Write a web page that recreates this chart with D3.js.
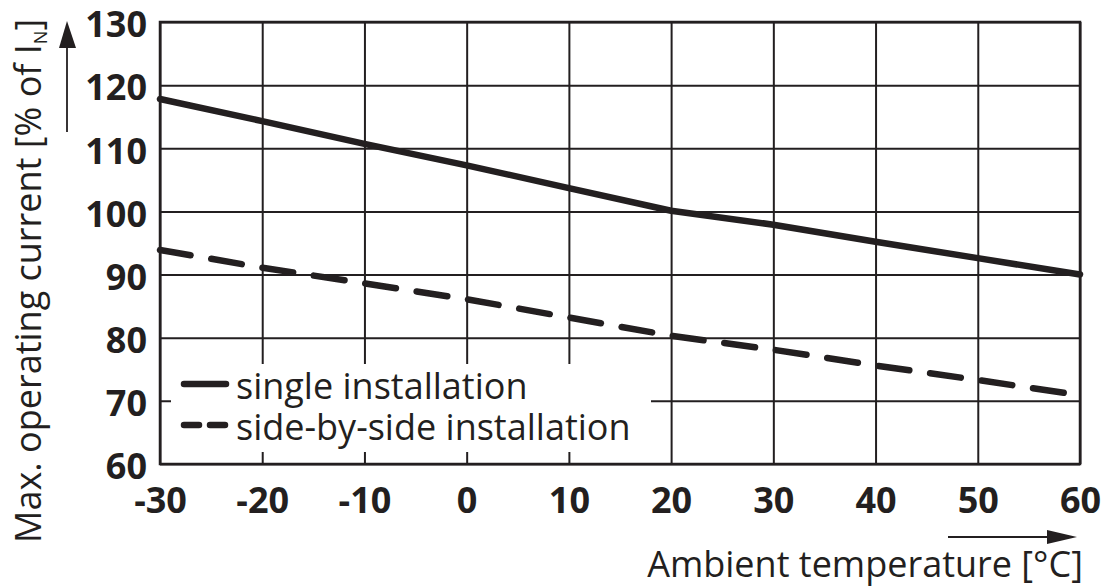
<!DOCTYPE html>
<html>
<head>
<meta charset="utf-8">
<script src="https://cdn.jsdelivr.net/npm/d3@7"></script>
<style>
  html, body { margin: 0; padding: 0; background: #fff; }
  svg { display: block; }
</style>
</head>
<body>
<svg id="chart" width="1101" height="587"></svg>
<script>
// ---- data ----
const temperatures = [-30, -20, -10, 0, 10, 20, 30, 40, 50, 60];
const singleInstallation = [117.8, 114.3, 110.7, 107.3, 103.7, 100.1, 97.9, 95.2, 92.6, 90.0];
const sideBySideInstallation = [93.9, 91.1, 88.6, 86.1, 83.2, 80.3, 78.1, 75.6, 73.3, 70.9];
const xTicks = [-30, -20, -10, 0, 10, 20, 30, 40, 50, 60];
const yTicks = [60, 70, 80, 90, 100, 110, 120, 130];
const seriesNames = ["single installation", "side-by-side installation"];
const xTitle = "Ambient temperature [°C]";
const yTitleMain = "Max. operating current [% of I";
const yTitleSub = "N";
const yTitleEnd = "]";

// ---- layout ----
const plotL = 160, plotR = 1080, plotT = 22, plotB = 464;
const ink = "#231f20";
const font = "'Open Sans', 'Noto Sans', sans-serif";

const svg = d3.select("#chart");
const x = d3.scaleLinear().domain([-30, 60]).range([plotL, plotR]);
const y = d3.scaleLinear().domain([60, 130]).range([plotB, plotT]);

// grid + tick labels via axes
const gx = svg.append("g")
  .attr("transform", `translate(0,${plotB})`)
  .call(d3.axisBottom(x).tickValues(xTicks).tickFormat(d3.format("d"))
    .tickSizeInner(-(plotB - plotT)).tickSizeOuter(0).tickPadding(23));
gx.select(".domain").remove();
gx.selectAll(".tick line").attr("stroke", ink).attr("stroke-width", 2);
gx.selectAll(".tick text")
  .attr("fill", ink).attr("font-family", font).attr("font-weight", "bold")
  .attr("font-size", 36).text(d => String(d));

const gy = svg.append("g")
  .attr("transform", `translate(${plotL},0)`)
  .call(d3.axisLeft(y).tickValues(yTicks).tickFormat(d3.format("d"))
    .tickSizeInner(-(plotR - plotL)).tickSizeOuter(0).tickPadding(13));
gy.select(".domain").remove();
gy.selectAll(".tick line").attr("stroke", ink).attr("stroke-width", 2);
gy.selectAll(".tick text")
  .attr("fill", ink).attr("font-family", font).attr("font-weight", "bold")
  .attr("font-size", 36).attr("dy", "0.41em");

// frame
svg.append("rect")
  .attr("x", plotL).attr("y", plotT)
  .attr("width", plotR - plotL).attr("height", plotB - plotT)
  .attr("fill", "none").attr("stroke", ink).attr("stroke-width", 2.5);

// data lines
const line = d3.line().x((d, i) => x(temperatures[i])).y(d => y(d));
svg.append("path").datum(singleInstallation)
  .attr("d", line).attr("fill", "none").attr("stroke", ink)
  .attr("stroke-width", 6.5).attr("stroke-linecap", "round").attr("stroke-linejoin", "round");
svg.append("path").datum(sideBySideInstallation)
  .attr("d", line).attr("fill", "none").attr("stroke", ink)
  .attr("stroke-width", 6.5).attr("stroke-linecap", "round")
  .attr("stroke-dasharray", "31,21");

// legend
const lg = svg.append("g");
lg.append("rect").attr("x", 171).attr("y", 364).attr("width", 480).attr("height", 88).attr("fill", "#fff");
lg.append("line").attr("x1", 184).attr("x2", 226).attr("y1", 384).attr("y2", 384)
  .attr("stroke", ink).attr("stroke-width", 6.5).attr("stroke-linecap", "round");
lg.append("line").attr("x1", 184).attr("x2", 226).attr("y1", 425).attr("y2", 425)
  .attr("stroke", ink).attr("stroke-width", 6.5).attr("stroke-linecap", "round")
  .attr("stroke-dasharray", "15,11");
lg.selectAll("text.leg").data(seriesNames).enter().append("text")
  .attr("class", "leg")
  .attr("x", 236).attr("y", (d, i) => 399 + i * 41)
  .attr("font-family", font).attr("font-size", 36).attr("fill", ink)
  .text(d => d);

// x axis title + arrow
svg.append("text")
  .attr("x", 1083).attr("y", 577).attr("text-anchor", "end")
  .attr("font-family", font).attr("font-size", 36).attr("fill", ink)
  .text(xTitle);
svg.append("line").attr("x1", 948).attr("x2", 1050).attr("y1", 537).attr("y2", 537)
  .attr("stroke", ink).attr("stroke-width", 1.8);
svg.append("path").attr("d", "M1077,537 L1047,530 L1047,544 Z").attr("fill", ink);

// y axis title + arrow
const yt = svg.append("text")
  .attr("transform", "translate(41,543) rotate(-90)")
  .attr("font-family", font).attr("font-size", 36).attr("fill", ink);
yt.append("tspan").text(yTitleMain);
yt.append("tspan").attr("font-size", 18).attr("dy", 6).text(yTitleSub);
yt.append("tspan").attr("dy", -6).text(yTitleEnd);
svg.append("line").attr("x1", 67).attr("x2", 67).attr("y1", 132).attr("y2", 45)
  .attr("stroke", ink).attr("stroke-width", 1.8);
svg.append("path").attr("d", "M67,21 L59,48 L76,48 Z").attr("fill", ink);
</script>
</body>
</html>
